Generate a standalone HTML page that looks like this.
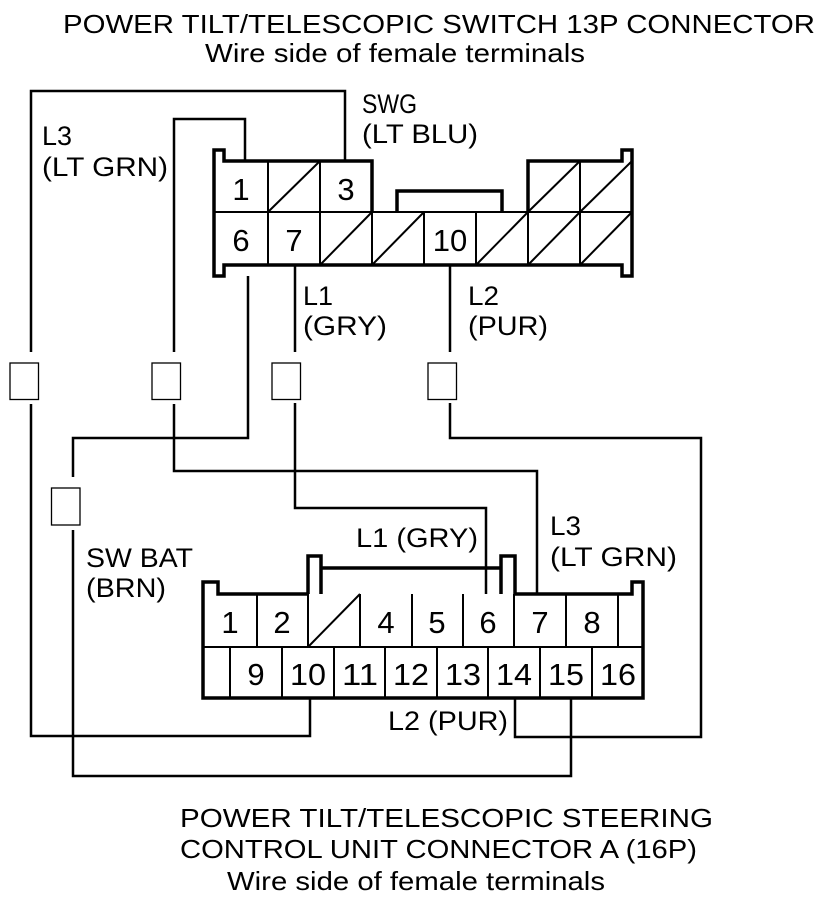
<!DOCTYPE html>
<html><head><meta charset="utf-8"><style>html,body{margin:0;padding:0;background:#fff}svg{display:block}</style></head>
<body>
<svg width="832" height="900" viewBox="0 0 832 900" xmlns="http://www.w3.org/2000/svg" font-family="Liberation Sans, Arial, sans-serif" fill="none" stroke="#000">
<!-- titles -->
<g fill="#000" stroke="none" font-size="26">
<text x="63" y="33" textLength="752" lengthAdjust="spacingAndGlyphs">POWER TILT/TELESCOPIC SWITCH 13P CONNECTOR</text>
<text x="205" y="62" textLength="380" lengthAdjust="spacingAndGlyphs">Wire side of female terminals</text>
<text x="180" y="827" textLength="533" lengthAdjust="spacingAndGlyphs">POWER TILT/TELESCOPIC STEERING</text>
<text x="180" y="858" textLength="517" lengthAdjust="spacingAndGlyphs">CONTROL UNIT CONNECTOR A (16P)</text>
<text x="227" y="890" textLength="378" lengthAdjust="spacingAndGlyphs">Wire side of female terminals</text>
</g>
<g fill="#000" stroke="none" font-size="27">
<text x="362" y="113" textLength="55" lengthAdjust="spacingAndGlyphs">SWG</text>
<text x="362" y="143" textLength="116" lengthAdjust="spacingAndGlyphs">(LT BLU)</text>
<text x="42" y="145" textLength="30" lengthAdjust="spacingAndGlyphs">L3</text>
<text x="42" y="176" textLength="126" lengthAdjust="spacingAndGlyphs">(LT GRN)</text>
<text x="303" y="305" textLength="30" lengthAdjust="spacingAndGlyphs">L1</text>
<text x="303" y="335" textLength="84" lengthAdjust="spacingAndGlyphs">(GRY)</text>
<text x="468" y="305" textLength="31" lengthAdjust="spacingAndGlyphs">L2</text>
<text x="468" y="335" textLength="80" lengthAdjust="spacingAndGlyphs">(PUR)</text>
<text x="356" y="547" textLength="122" lengthAdjust="spacingAndGlyphs">L1 (GRY)</text>
<text x="550" y="535" textLength="31" lengthAdjust="spacingAndGlyphs">L3</text>
<text x="550" y="566" textLength="127" lengthAdjust="spacingAndGlyphs">(LT GRN)</text>
<text x="86" y="567" textLength="107" lengthAdjust="spacingAndGlyphs">SW BAT</text>
<text x="86" y="597" textLength="80" lengthAdjust="spacingAndGlyphs">(BRN)</text>
<text x="388" y="730" textLength="120" lengthAdjust="spacingAndGlyphs">L2 (PUR)</text>
</g>
<!-- wires -->
<g stroke-width="2.5">
<polyline points="345,161 345,91 31,91 31,352"/>
<polyline points="31,404 31,736 310,736 310,698"/>
<polyline points="245,161 245,119 174,119 174,352"/>
<polyline points="174,404 174,471 537,471 537,594"/>
<polyline points="248,276 248,438 73,438 73,477"/>
<polyline points="73,530 73,776 571,776 571,698"/>
<polyline points="295,265 295,352"/>
<polyline points="295,403 295,508 486,508 486,594"/>
<polyline points="450,265 450,352"/>
<polyline points="450,403 450,438 701,438 701,737 515,737 515,698"/>
</g>
<!-- splice boxes -->
<g stroke-width="1.3">
<rect x="10" y="363" width="28.5" height="36.5"/>
<rect x="152" y="363" width="28.5" height="36.5"/>
<rect x="272" y="363" width="28.5" height="36.5"/>
<rect x="428" y="363" width="28.5" height="36.5"/>
<rect x="51.5" y="488" width="28.5" height="37"/>
</g>
<!-- top connector -->
<g stroke-width="2">
<line x1="268" y1="161" x2="268" y2="265"/>
<line x1="320" y1="161" x2="320" y2="265"/>
<line x1="372" y1="212" x2="372" y2="265"/>
<line x1="424" y1="212" x2="424" y2="265"/>
<line x1="476" y1="212" x2="476" y2="265"/>
<line x1="528" y1="212" x2="528" y2="265"/>
<line x1="580" y1="161" x2="580" y2="265"/>
<line x1="214" y1="212" x2="632" y2="212"/>
<line x1="268" y1="212" x2="320" y2="161"/>
<line x1="320" y1="265" x2="372" y2="212"/>
<line x1="372" y1="265" x2="424" y2="212"/>
<line x1="476" y1="265" x2="528" y2="212"/>
<line x1="528" y1="265" x2="580" y2="212"/>
<line x1="580" y1="265" x2="632" y2="212"/>
<line x1="528" y1="212" x2="580" y2="161"/>
<line x1="580" y1="212" x2="632" y2="161"/>
</g>
<g stroke-width="3.5">
<polyline points="372,212 372,161 224,161 224,150 214,150 214,276 224,276 224,265 622,265 622,276 632,276 632,150 622,150 622,161 528,161 528,212"/>
<polyline points="397,212 397,191 502,191 502,212"/>
</g>
<g fill="#000" stroke="none" font-size="31" text-anchor="middle">
<text x="241" y="200">1</text>
<text x="346" y="200">3</text>
<text x="241" y="251">6</text>
<text x="294" y="251">7</text>
<text x="450" y="251">10</text>
</g>
<!-- bottom connector -->
<g stroke-width="2">
<line x1="257" y1="594" x2="257" y2="647"/>
<line x1="308" y1="594" x2="308" y2="647"/>
<line x1="360" y1="594" x2="360" y2="647"/>
<line x1="412" y1="594" x2="412" y2="647"/>
<line x1="463" y1="594" x2="463" y2="647"/>
<line x1="514" y1="594" x2="514" y2="647"/>
<line x1="566" y1="594" x2="566" y2="647"/>
<line x1="618" y1="594" x2="618" y2="647"/>
<line x1="230" y1="647" x2="230" y2="698"/>
<line x1="282" y1="647" x2="282" y2="698"/>
<line x1="334" y1="647" x2="334" y2="698"/>
<line x1="385" y1="647" x2="385" y2="698"/>
<line x1="437" y1="647" x2="437" y2="698"/>
<line x1="488" y1="647" x2="488" y2="698"/>
<line x1="540" y1="647" x2="540" y2="698"/>
<line x1="592" y1="647" x2="592" y2="698"/>
<line x1="203" y1="647" x2="643" y2="647"/>
<line x1="308" y1="647" x2="360" y2="594"/>
</g>
<g stroke-width="3.5">
<polyline points="308,594 218,594 218,582 203,582 203,698 643,698 643,582 632,582 632,594 515,594"/>
<polyline points="308,594 308,556 321,556 321,594"/>
<polyline points="321,568 501,568"/>
<polyline points="501,594 501,556 515,556 515,594"/>
</g>
<g fill="#000" stroke="none" font-size="31" text-anchor="middle">
<text x="230" y="633">1</text>
<text x="282" y="633">2</text>
<text x="386" y="633">4</text>
<text x="437" y="633">5</text>
<text x="488" y="633">6</text>
<text x="540" y="633">7</text>
<text x="592" y="633">8</text>
<text x="256" y="685">9</text>
<text x="308" y="685" textLength="36" lengthAdjust="spacingAndGlyphs">10</text>
<text x="360" y="685" textLength="36" lengthAdjust="spacingAndGlyphs">11</text>
<text x="411" y="685" textLength="36" lengthAdjust="spacingAndGlyphs">12</text>
<text x="463" y="685" textLength="36" lengthAdjust="spacingAndGlyphs">13</text>
<text x="514" y="685" textLength="36" lengthAdjust="spacingAndGlyphs">14</text>
<text x="566" y="685" textLength="36" lengthAdjust="spacingAndGlyphs">15</text>
<text x="618" y="685" textLength="36" lengthAdjust="spacingAndGlyphs">16</text>
</g>
</svg>
</body></html>
